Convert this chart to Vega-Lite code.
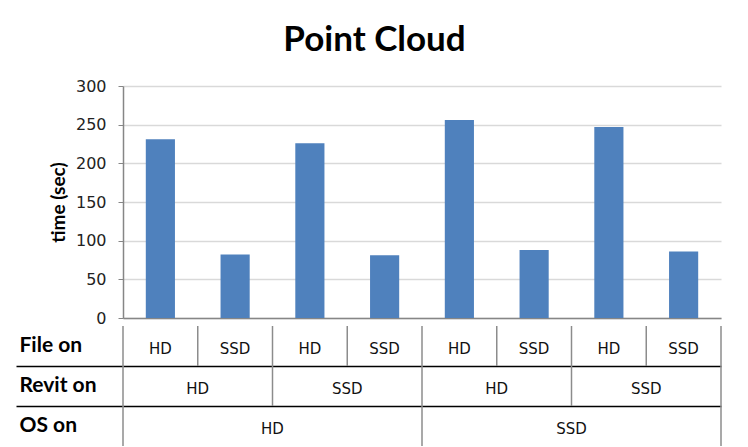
{
  "$schema": "https://vega.github.io/schema/vega-lite/v6.json",
  "background": "white",
  "padding": {"left": 15, "top": 23, "right": 20, "bottom": 5},
  "title": {"text": "Point Cloud", "font": "Lato", "fontSize": 35, "fontWeight": "bold", "color": "black", "anchor": "middle", "offset": 20, "dx": 6},
  "spacing": 0,
  "config": {"view": {"stroke": null}, "font": "DejaVu Sans"},
  "datasets": {
    "bars": [
      {"id": "1", "file": "HD", "revit": "HD", "os": "HD", "time": 231},
      {"id": "2", "file": "SSD", "revit": "HD", "os": "HD", "time": 82},
      {"id": "3", "file": "HD", "revit": "SSD", "os": "HD", "time": 226},
      {"id": "4", "file": "SSD", "revit": "SSD", "os": "HD", "time": 81},
      {"id": "5", "file": "HD", "revit": "HD", "os": "SSD", "time": 256},
      {"id": "6", "file": "SSD", "revit": "HD", "os": "SSD", "time": 88},
      {"id": "7", "file": "HD", "revit": "SSD", "os": "SSD", "time": 247},
      {"id": "8", "file": "SSD", "revit": "SSD", "os": "SSD", "time": 86}
    ],
    "groups": [
      {"at": "2", "level": "Revit on", "label": "HD"},
      {"at": "4", "level": "Revit on", "label": "SSD"},
      {"at": "6", "level": "Revit on", "label": "HD"},
      {"at": "8", "level": "Revit on", "label": "SSD"},
      {"at": "3", "level": "OS on", "label": "HD"},
      {"at": "7", "level": "OS on", "label": "SSD"}
    ],
    "edges": [
      {"at": "1", "side": "start", "level": "File on"},
      {"at": "1", "side": "start", "level": "Revit on"},
      {"at": "1", "side": "start", "level": "OS on"},
      {"at": "2", "side": "start", "level": "File on"},
      {"at": "3", "side": "start", "level": "File on"},
      {"at": "3", "side": "start", "level": "Revit on"},
      {"at": "4", "side": "start", "level": "File on"},
      {"at": "5", "side": "start", "level": "File on"},
      {"at": "5", "side": "start", "level": "Revit on"},
      {"at": "5", "side": "start", "level": "OS on"},
      {"at": "6", "side": "start", "level": "File on"},
      {"at": "7", "side": "start", "level": "File on"},
      {"at": "7", "side": "start", "level": "Revit on"},
      {"at": "8", "side": "start", "level": "File on"},
      {"at": "8", "side": "end", "level": "File on"},
      {"at": "8", "side": "end", "level": "Revit on"},
      {"at": "8", "side": "end", "level": "OS on"}
    ]
  },
  "vconcat": [
    {
      "width": 598,
      "height": 232,
      "data": {"name": "bars"},
      "mark": {"type": "bar", "color": "#4f81bd", "width": {"band": 0.39}},
      "encoding": {
        "x": {"field": "id", "type": "nominal", "scale": {"domain": ["1","2","3","4","5","6","7","8"], "paddingInner": 0, "paddingOuter": 0},
              "axis": {"labels": false, "ticks": false, "title": null, "domainColor": "#868686", "domainWidth": 1.5}},
        "y": {"field": "time", "type": "quantitative", "scale": {"domain": [0, 300]},
              "axis": {"values": [0, 50, 100, 150, 200, 250, 300], "title": "time (sec)", "titleFont": "Lato", "titleFontSize": 19, "titleFontWeight": "bold", "titleColor": "black", "titlePadding": 7,
                       "labelFont": "DejaVu Sans", "labelFontSize": 16, "labelColor": "#222", "labelPadding": 12, "tickSize": 5, "tickColor": "#868686", "domainColor": "#868686", "domainWidth": 1.5,
                       "gridColor": "#d9d9d9", "gridWidth": 1.5}}
      }
    },
    {
      "width": 598,
      "height": 120,
      "layer": [
        {
          "data": {"name": "edges"},
          "transform": [{"filter": "datum.side === 'start'"}],
          "mark": {"type": "tick", "orient": "vertical", "size": 40, "thickness": 1.5, "color": "#8c8c8c", "opacity": 1},
          "encoding": {
            "x": {"field": "at", "type": "nominal", "bandPosition": 0, "scale": {"domain": ["1","2","3","4","5","6","7","8"], "paddingInner": 0, "paddingOuter": 0}, "axis": null},
            "y": {"field": "level", "type": "nominal", "title": null, "scale": {"domain": ["File on", "Revit on", "OS on"], "paddingInner": 0, "paddingOuter": 0},
                  "axis": {"title": null, "domain": false, "labelAlign": "left", "labelPadding": -3, "labelFont": "Lato", "labelFontSize": 21, "labelFontWeight": "bold", "labelColor": "black", "labelBaseline": "middle",
                           "tickSize": 107, "tickWidth": 1.5, "bandPosition": 1,
                           "tickColor": {"condition": {"test": "datum.value === 'OS on'", "value": "transparent"}, "value": "black"},
                           "grid": true, "gridWidth": 1.5,
                           "gridColor": {"condition": {"test": "datum.value === 'OS on'", "value": "transparent"}, "value": "black"}}}
          }
        },
        {
          "data": {"name": "edges"},
          "transform": [{"filter": "datum.side === 'end'"}],
          "mark": {"type": "tick", "orient": "vertical", "size": 40, "thickness": 1.5, "color": "#8c8c8c", "opacity": 1},
          "encoding": {
            "x": {"field": "at", "type": "nominal", "bandPosition": 1},
            "y": {"field": "level", "type": "nominal", "title": null}
          }
        },
        {
          "data": {"name": "bars"},
          "mark": {"type": "text", "font": "DejaVu Sans", "fontSize": 15, "color": "#111", "dy": 3},
          "encoding": {
            "x": {"field": "id", "type": "nominal"},
            "y": {"datum": "File on", "type": "nominal", "title": null},
            "text": {"field": "file"}
          }
        },
        {
          "data": {"name": "groups"},
          "mark": {"type": "text", "font": "DejaVu Sans", "fontSize": 15, "color": "#111", "dy": 3},
          "encoding": {
            "x": {"field": "at", "type": "nominal", "bandPosition": 0},
            "y": {"field": "level", "type": "nominal", "title": null},
            "text": {"field": "label"}
          }
        }
      ]
    }
  ]
}
